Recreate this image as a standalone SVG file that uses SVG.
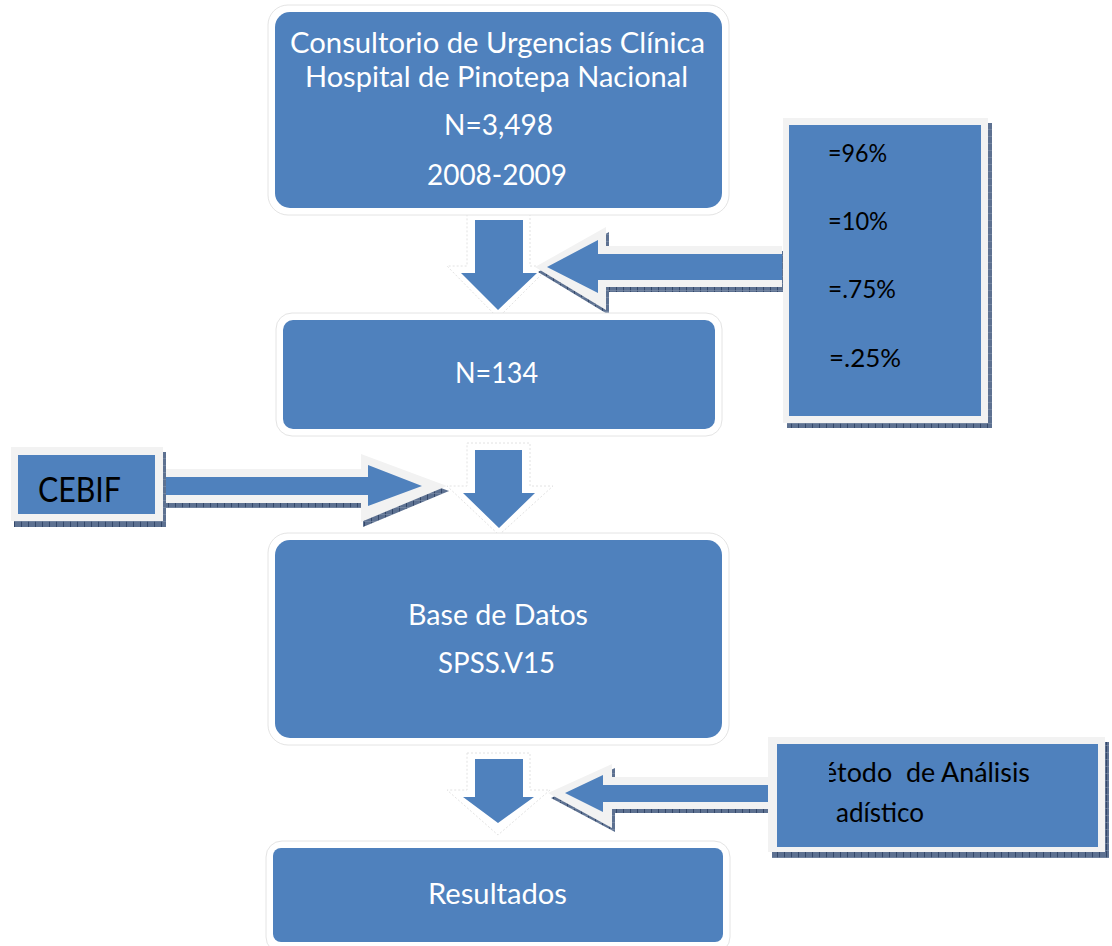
<svg xmlns="http://www.w3.org/2000/svg" width="1112" height="946" viewBox="0 0 1112 946">
<defs>
<pattern id="hatch" width="7" height="7" patternUnits="userSpaceOnUse">
<rect width="7" height="7" fill="#5d7191"/>
<line x1="0.5" y1="0" x2="0.5" y2="7" stroke="#34486a" stroke-width="1"/>
<line x1="0" y1="3.5" x2="7" y2="3.5" stroke="#8090aa" stroke-width="0.6"/>
</pattern>
<clipPath id="clipR1"><rect x="828" y="125" width="153" height="291"/></clipPath>
<clipPath id="clipR2"><rect x="829" y="744" width="269" height="103"/></clipPath>
</defs>
<style>
.blue{fill:#4f81bd}
.rframe{fill:#ffffff;stroke:#e4e4e4;stroke-width:1}
.sframe{fill:#f2f2f2}
.shadow{fill:url(#hatch)}
.aout{fill:#f2f2f2}
.dout{fill:#ffffff;stroke:#e2e2e2;stroke-width:1;stroke-dasharray:2 2}
.wt{font-family:Lato,"Liberation Sans",sans-serif;fill:#ffffff;text-anchor:middle}
.bt{font-family:Lato,"Liberation Sans",sans-serif;fill:#000000}
</style>
<rect width="1112" height="946" fill="#ffffff"/>

<g id="connectors">
<g id="arrow-down-1">
<polygon class="dout" points="467,213 530,213 530,266 550,266 498,318 447,266 467,266"/>
<polygon class="blue" points="475,220 523,220 523,273 537,273 498,310 461,273 475,273"/>
</g>
<g id="arrow-down-2">
<polygon class="dout" points="467,443 530,443 530,486 553,486 499,535 447,486 467,486"/>
<polygon class="blue" points="475,450 522,450 522,493 535,493 499,528 463,493 475,493"/>
</g>
<g id="arrow-down-3">
<polygon class="dout" points="467,753 530,753 530,790 550,790 498,835 447,790 467,790"/>
<polygon class="blue" points="475,759 523,759 523,797 534,797 498,823 463,797 475,797"/>
</g>
<g id="arrow-left-1">
<polygon class="shadow" points="783,251 609,251 609,232 538,272 609,315 609,292 783,292"/>
<polygon class="aout" points="782,246 606,246 606,227 535,267 606,310 606,287 782,287"/>
<polygon class="blue" points="782,254 598,254 598,240 547,267 598,293 598,280 782,280"/>
</g>
<g id="arrow-right-cebif">
<polygon class="shadow" points="166,474 363,474 363,459 449,491 363,527 363,508 166,508"/>
<polygon class="aout" points="163,469 361,469 361,454 447,486 361,522 361,503 163,503"/>
<polygon class="blue" points="163,477 368,477 368,465 422,486 368,506 368,495 163,495"/>
</g>
<g id="arrow-left-2">
<polygon class="shadow" points="772,781 615,781 615,768 551,798 615,832 615,813 772,813"/>
<polygon class="aout" points="770,777 612,777 612,764 548,793 612,828 612,809 770,809"/>
<polygon class="blue" points="770,785 603,785 603,775 565,793 603,812 603,802 770,802"/>
</g>
</g>

<g id="node-consultorio">
<rect class="rframe" x="268" y="5" width="461" height="210" rx="20"/>
<rect class="blue" x="275" y="12" width="447" height="196" rx="15"/>
<text class="wt" x="497.5" y="53" font-size="28" textLength="415" lengthAdjust="spacingAndGlyphs">Consultorio de Urgencias Clínica</text>
<text class="wt" x="496.5" y="87" font-size="28" textLength="383" lengthAdjust="spacingAndGlyphs">Hospital de Pinotepa Nacional</text>
<text class="wt" x="498.5" y="135" font-size="28" textLength="109" lengthAdjust="spacingAndGlyphs">N=3,498</text>
<text class="wt" x="497" y="185" font-size="28" textLength="140" lengthAdjust="spacingAndGlyphs">2008-2009</text>
</g>

<g id="node-n134">
<rect class="rframe" x="276" y="313" width="446" height="123" rx="16"/>
<rect class="blue" x="283" y="320" width="432" height="109" rx="10"/>
<text class="wt" x="496.5" y="383" font-size="28" textLength="83" lengthAdjust="spacingAndGlyphs">N=134</text>
</g>

<g id="node-porcentajes">
<rect class="shadow" x="787" y="123" width="205" height="305"/>
<rect class="sframe" x="783" y="118" width="205" height="305"/>
<rect class="blue" x="789" y="125" width="192" height="291"/>
<g clip-path="url(#clipR1)">
<text class="bt" x="828" y="162" font-size="25" textLength="59" lengthAdjust="spacingAndGlyphs">=96%</text>
<text class="bt" x="828" y="230" font-size="25" textLength="60" lengthAdjust="spacingAndGlyphs">=10%</text>
<text class="bt" x="828" y="298" font-size="25" textLength="68" lengthAdjust="spacingAndGlyphs">=.75%</text>
<text class="bt" x="829" y="367" font-size="25" textLength="72" lengthAdjust="spacingAndGlyphs">=.25%</text>
</g>
</g>

<g id="node-cebif">
<rect class="shadow" x="14" y="452" width="152" height="75"/>
<rect class="sframe" x="11" y="447" width="152" height="74"/>
<rect class="blue" x="18" y="455" width="137" height="59"/>
<text class="bt" x="38" y="502" font-size="35" textLength="83" lengthAdjust="spacingAndGlyphs">CEBIF</text>
</g>

<g id="node-base-datos">
<rect class="rframe" x="268" y="533" width="461" height="212" rx="20"/>
<rect class="blue" x="275" y="540" width="447" height="198" rx="15"/>
<text class="wt" x="498" y="625" font-size="28" textLength="180" lengthAdjust="spacingAndGlyphs">Base de Datos</text>
<text class="wt" x="496.5" y="673" font-size="28" textLength="117" lengthAdjust="spacingAndGlyphs">SPSS.V15</text>
</g>

<g id="node-metodo">
<rect class="shadow" x="772" y="742" width="337" height="116"/>
<rect class="sframe" x="768" y="737" width="337" height="115"/>
<rect class="blue" x="777" y="744" width="321" height="103"/>
<g clip-path="url(#clipR2)">
<text class="bt" x="823" y="782" font-size="26" textLength="207" lengthAdjust="spacingAndGlyphs" xml:space="preserve">étodo  de Análisis</text>
<text class="bt" x="836" y="822" font-size="26" textLength="88" lengthAdjust="spacingAndGlyphs">adístico</text>
</g>
</g>

<g id="node-resultados">
<rect class="rframe" x="266" y="841" width="464" height="112" rx="16"/>
<rect class="blue" x="273" y="848" width="450" height="94" rx="8"/>
<text class="wt" x="497.5" y="904" font-size="28" textLength="139" lengthAdjust="spacingAndGlyphs">Resultados</text>
</g>
</svg>
